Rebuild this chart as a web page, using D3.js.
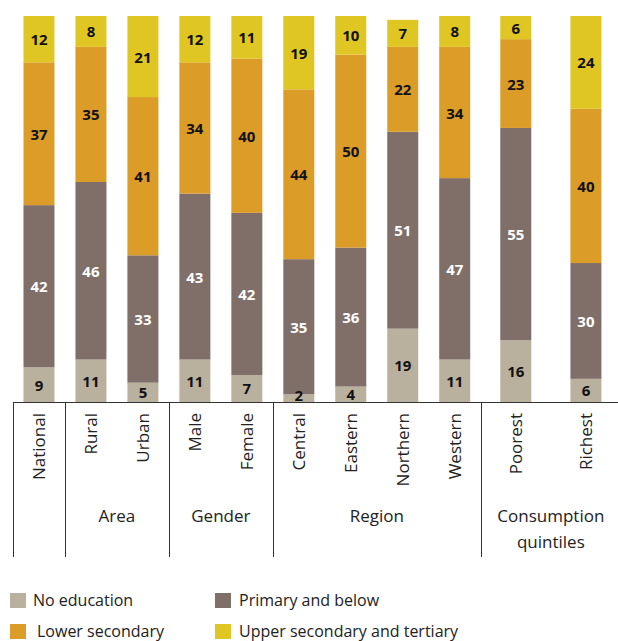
<!DOCTYPE html>
<html>
<head>
<meta charset="utf-8">
<script src="https://cdn.jsdelivr.net/npm/d3@7"></script>
<style>
  html, body { margin: 0; padding: 0; background: #fff; }
  svg { display: block; font-family: "Open Sans", "Noto Sans", sans-serif; }
</style>
</head>
<body>
<svg id="chart" width="618" height="641"></svg>
<script>
// Educational attainment by group (percent of population)
const categories = ["National", "Rural", "Urban", "Male", "Female", "Central", "Eastern", "Northern", "Western", "Poorest", "Richest"];
const groupOf    = ["", "Area", "Area", "Gender", "Gender", "Region", "Region", "Region", "Region", "Consumption quintiles", "Consumption quintiles"];
const groupNames = ["", "Area", "Gender", "Region", "Consumption quintiles"];

const seriesNames = ["No education", "Primary and below", "Lower secondary", "Upper secondary and tertiary"];
const noEducation    = [9, 11, 5, 11, 7, 2, 4, 19, 11, 16, 6];
const primaryBelow   = [42, 46, 33, 43, 42, 35, 36, 51, 47, 55, 30];
const lowerSecondary = [37, 35, 41, 34, 40, 44, 50, 22, 34, 23, 40];
const upperTertiary  = [12, 8, 21, 12, 11, 19, 10, 7, 8, 6, 24];

const colors = ["#bab09e", "#806e68", "#dc9c28", "#e0c622"];
const labelColors = ["#111", "#fff", "#111", "#111"];

// Layout: consumption quintile slots are drawn a little wider than the rest
const slotWeight = g => g === "Consumption quintiles" ? 1.35 : 1;

const svg = d3.select("#chart");
const baseY = 402, topY = 16, barW = 31;

const rows = categories.map((c, i) => ({
  category: c,
  group: groupOf[i],
  "No education": noEducation[i],
  "Primary and below": primaryBelow[i],
  "Lower secondary": lowerSecondary[i],
  "Upper secondary and tertiary": upperTertiary[i]
}));

// cumulative slot positions
let acc = 0;
const slotStart = [], slotW = [];
rows.forEach(r => { const w = slotWeight(r.group); slotStart.push(acc); slotW.push(w); acc += w; });
const totalUnits = acc;

const x = d3.scaleLinear().domain([0, totalUnits]).range([13, 621]);
const y = d3.scaleLinear().domain([0, 100]).range([baseY, topY]);
const xc = i => x(slotStart[i] + slotW[i] / 2);

const stack = d3.stack().keys(seriesNames);
const layers = stack(rows);

const gBars = svg.append("g");
layers.forEach((layer, k) => {
  gBars.append("g").attr("fill", colors[k])
    .selectAll("rect").data(layer).join("rect")
      .attr("x", (d, i) => xc(i) - barW / 2)
      .attr("width", barW)
      .attr("y", d => y(d[1]))
      .attr("height", d => y(d[0]) - y(d[1]));
});

// value labels
layers.forEach((layer, k) => {
  gBars.append("g")
    .selectAll("text").data(layer).join("text")
      .attr("x", (d, i) => xc(i))
      .attr("y", d => Math.min((y(d[0]) + y(d[1])) / 2, baseY - 7))
      .attr("text-anchor", "middle")
      .attr("dominant-baseline", "central")
      .attr("font-size", 15)
      .attr("font-weight", 700)
      .attr("fill", labelColors[k])
      .text(d => d.data[seriesNames[k]]);
});

// baseline and group dividers
const axisColor = "#333";
svg.append("line")
  .attr("x1", x(0)).attr("x2", 618)
  .attr("y1", baseY + 0.5).attr("y2", baseY + 0.5)
  .attr("stroke", axisColor).attr("stroke-width", 1);

const groupSpans = groupNames.map(g => {
  const idx = rows.map((r, i) => r.group === g ? i : -1).filter(i => i >= 0);
  return { name: g, start: slotStart[idx[0]], end: slotStart[idx[idx.length - 1]] + slotW[idx[idx.length - 1]] };
});

groupSpans.forEach(s => {
  svg.append("line")
    .attr("x1", Math.round(x(s.start)) + 0.5).attr("x2", Math.round(x(s.start)) + 0.5)
    .attr("y1", baseY).attr("y2", 557)
    .attr("stroke", axisColor).attr("stroke-width", 1);
});

// category labels (rotated)
svg.append("g").selectAll("text").data(categories).join("text")
  .attr("transform", (d, i) => `translate(${xc(i)},${baseY + 11}) rotate(-90)`)
  .attr("text-anchor", "end")
  .attr("dominant-baseline", "central")
  .attr("font-size", 17)
  .attr("fill", "#222")
  .text(d => d);

// group labels
groupSpans.filter(s => s.name).forEach(s => {
  const cx = x((s.start + s.end) / 2);
  const words = s.name === "Consumption quintiles" ? ["Consumption", "quintiles"] : [s.name];
  words.forEach((w, j) => {
    svg.append("text")
      .attr("x", cx).attr("y", 515 + j * 26)
      .attr("text-anchor", "middle")
      .attr("dominant-baseline", "central")
      .attr("font-size", 17)
      .attr("fill", "#222")
      .text(w);
  });
});

// legend
const legendPos = [
  { sx: 10, tx: 33, y: 593 },
  { sx: 215, tx: 239, y: 593 },
  { sx: 10, tx: 37, y: 624 },
  { sx: 215, tx: 239, y: 624 }
];
const legend = svg.append("g");
seriesNames.forEach((name, k) => {
  const p = legendPos[k];
  legend.append("rect").attr("x", p.sx).attr("y", p.y).attr("width", 16).attr("height", 15).attr("fill", colors[k]);
  legend.append("text").attr("x", p.tx).attr("y", p.y + 7)
    .attr("dominant-baseline", "central")
    .attr("font-size", 16).attr("fill", "#222")
    .text(name);
});
</script>
</body>
</html>
